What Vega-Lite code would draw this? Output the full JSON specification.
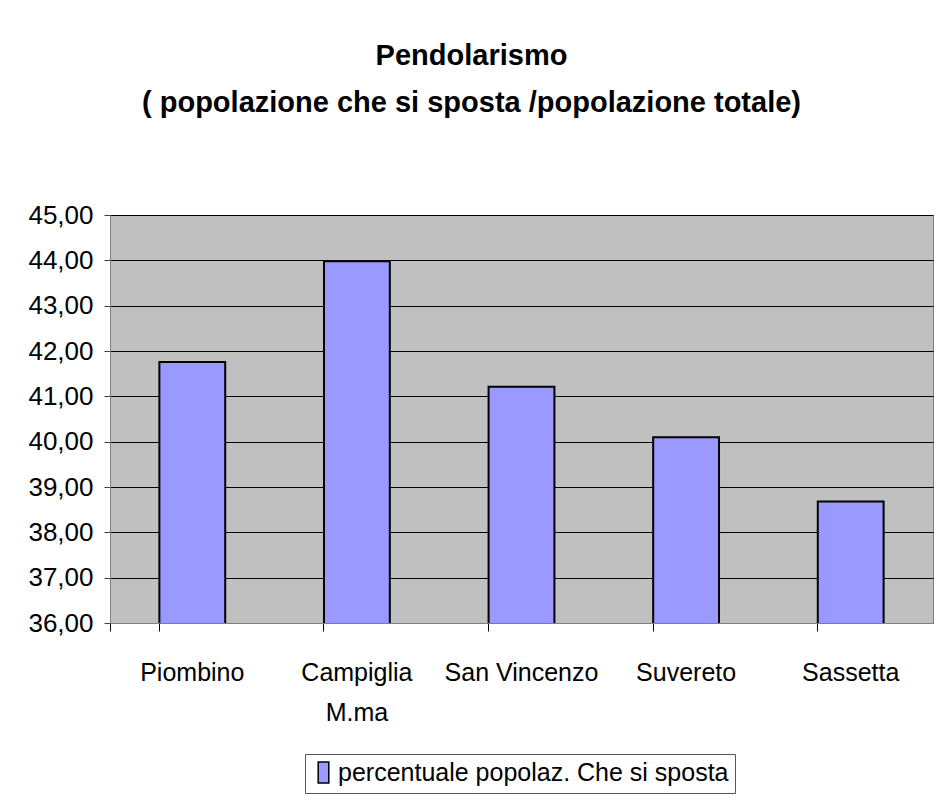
{
  "$schema": "https://vega.github.io/schema/vega-lite/v6.json",
  "width": 823,
  "height": 408,
  "autosize": {"type": "none"},
  "padding": {"left": 110, "top": 215, "right": 3, "bottom": 188},
  "background": "white",
  "config": {
    "locale": {"number": {"decimal": ",", "thousands": ".", "grouping": [3], "currency": ["€", ""]}},
    "font": "Liberation Sans",
    "view": {"fill": "#C0C0C0", "stroke": "#808080", "strokeWidth": 1}
  },
  "title": {
    "text": ["Pendolarismo", "( popolazione che si sposta /popolazione totale)"],
    "font": "Liberation Sans",
    "fontSize": 29,
    "fontWeight": "bold",
    "color": "black",
    "lineHeight": 47,
    "anchor": "middle",
    "dx": -50,
    "offset": 84
  },
  "data": {
    "values": [
      {"comune": "Piombino", "valore": 41.76, "serie": "percentuale popolaz. Che si sposta"},
      {"comune": "Campiglia M.ma", "valore": 43.98, "serie": "percentuale popolaz. Che si sposta"},
      {"comune": "San Vincenzo", "valore": 41.21, "serie": "percentuale popolaz. Che si sposta"},
      {"comune": "Suvereto", "valore": 40.10, "serie": "percentuale popolaz. Che si sposta"},
      {"comune": "Sassetta", "valore": 38.68, "serie": "percentuale popolaz. Che si sposta"}
    ]
  },
  "mark": {"type": "bar", "stroke": "black", "strokeWidth": 2, "clip": true},
  "encoding": {
    "x": {
      "field": "comune",
      "type": "nominal",
      "sort": null,
      "scale": {"paddingInner": 0.6, "paddingOuter": 0.3},
      "axis": {
        "title": null,
        "labelAngle": 0,
        "labelFont": "Liberation Sans",
        "labelFontSize": 25,
        "labelColor": "black",
        "labelPadding": 29,
        "labelLineHeight": 40,
        "labelExpr": "datum.label == 'Campiglia M.ma' ? ['Campiglia', 'M.ma'] : datum.label",
        "bandPosition": 0,
        "tickExtra": true,
        "ticks": true,
        "tickSize": 8,
        "tickColor": "black",
        "domainColor": "#808080",
        "grid": false
      }
    },
    "y": {
      "field": "valore",
      "type": "quantitative",
      "scale": {"domain": [36, 45], "zero": false, "nice": false},
      "axis": {
        "title": null,
        "values": [36, 37, 38, 39, 40, 41, 42, 43, 44, 45],
        "format": ".2f",
        "labelFont": "Liberation Sans",
        "labelFontSize": 26,
        "labelColor": "black",
        "labelPadding": 11,
        "tickSize": 6,
        "tickColor": "#404040",
        "domainColor": "#808080",
        "grid": true,
        "gridColor": "black",
        "gridWidth": 1,
        "gridOpacity": 1
      }
    },
    "fill": {
      "field": "serie",
      "type": "nominal",
      "scale": {"range": ["#9999FF"]},
      "legend": {
        "title": null,
        "orient": "none",
        "legendX": 195,
        "legendY": 539,
        "strokeColor": "#555555",
        "padding": 6,
        "symbolType": "M-0.5,-1H0.5V1H-0.5Z",
        "symbolSize": 450,
        "symbolStrokeColor": "black",
        "symbolStrokeWidth": 1.5,
        "symbolFillColor": "#9999FF",
        "labelFont": "Liberation Sans",
        "labelFontSize": 25,
        "labelColor": "black",
        "labelOffset": 2,
        "labelLimit": 500
      }
    }
  }
}
